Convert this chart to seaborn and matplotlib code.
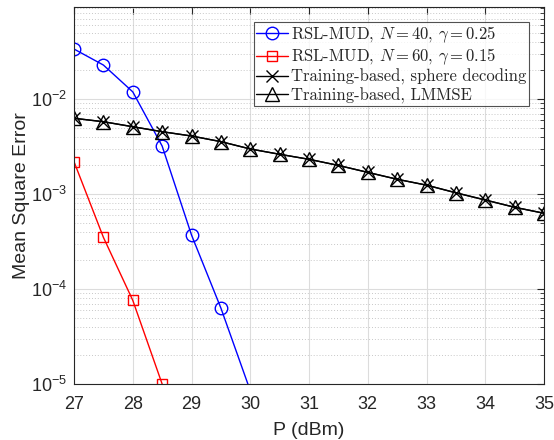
import numpy as np
import matplotlib
matplotlib.use("Agg")
import matplotlib.pyplot as plt
import seaborn as sns
from matplotlib.ticker import FuncFormatter, LogLocator, NullFormatter

# ---- data ----
p_n40 = [27, 27.5, 28, 28.5, 29, 29.5, 30]
mse_n40 = [3.36e-2, 2.28e-2, 1.19e-2, 3.2e-3, 3.7e-4, 6.3e-5, 8.5e-6]

p_n60 = [27, 27.5, 28, 28.5]
mse_n60 = [2.19e-3, 3.5e-4, 7.6e-5, 1.0e-5]

p_train = [27, 27.5, 28, 28.5, 29, 29.5, 30, 30.5, 31, 31.5, 32, 32.5, 33, 33.5, 34, 34.5, 35]
mse_sphere = [6.27e-3, 5.77e-3, 5.11e-3, 4.53e-3, 4.08e-3, 3.56e-3, 2.98e-3, 2.62e-3, 2.32e-3,
              2.00e-3, 1.69e-3, 1.43e-3, 1.24e-3, 1.03e-3, 8.65e-4, 7.25e-4, 6.27e-4]
mse_lmmse = [6.27e-3, 5.77e-3, 5.11e-3, 4.53e-3, 4.08e-3, 3.56e-3, 2.98e-3, 2.62e-3, 2.32e-3,
             2.00e-3, 1.69e-3, 1.43e-3, 1.24e-3, 1.03e-3, 8.65e-4, 7.25e-4, 6.27e-4]

labels = [r"RSL-MUD, $N = 40$, $\gamma = 0.25$",
          r"RSL-MUD, $N = 60$, $\gamma = 0.15$",
          "Training-based, sphere decoding",
          "Training-based, LMMSE"]
x_ticks = [27, 28, 29, 30, 31, 32, 33, 34, 35]

sns.set_style("white")
plt.rcParams["font.family"] = ["Liberation Sans", "DejaVu Sans"]
plt.rcParams["mathtext.fontset"] = "cm"

fig = plt.figure(figsize=(5.54, 4.40), dpi=100)
ax = fig.add_axes([0.1336, 0.1273, 0.982 - 0.1336, 0.985 - 0.1273])

lw = 1.0
sns.lineplot(x=p_n40, y=mse_n40, ax=ax, color="blue", marker="o", markersize=9,
             markerfacecolor="none", markeredgecolor="blue", markeredgewidth=1.0,
             linewidth=lw, label=labels[0])
sns.lineplot(x=p_n60, y=mse_n60, ax=ax, color="red", marker="s", markersize=7.5,
             markerfacecolor="none", markeredgecolor="red", markeredgewidth=1.0,
             linewidth=lw, label=labels[1])
sns.lineplot(x=p_train, y=mse_sphere, ax=ax, color="black", marker="x", markersize=8,
             markeredgecolor="black", markeredgewidth=1.0,
             linewidth=lw, label=labels[2])
sns.lineplot(x=p_train, y=mse_lmmse, ax=ax, color="black", marker="^", markersize=10,
             markerfacecolor="none", markeredgecolor="black", markeredgewidth=1.0,
             linewidth=lw, label=labels[3])

ax.set_yscale("log")
ax.set_xlim(27, 35)
ax.set_ylim(1e-5, 0.094)
ax.set_xticks(x_ticks)
ax.set_xticklabels([str(v) for v in x_ticks])
ax.yaxis.set_major_locator(LogLocator(base=10, numticks=10))
ax.yaxis.set_major_formatter(FuncFormatter(
    lambda v, pos: r"$\mathregular{10^{%d}}$" % int(round(np.log10(v)))))
ax.yaxis.set_minor_locator(LogLocator(base=10, subs=np.arange(2, 10), numticks=20))
ax.yaxis.set_minor_formatter(NullFormatter())

ax.grid(True, which="major", color="#dcdcdc", linewidth=0.8, linestyle="-")
ax.grid(True, which="minor", axis="y", color="#c8c8c8", linewidth=0.7, linestyle=(0, (1, 2)))
ax.set_axisbelow(True)

ax.tick_params(axis="both", which="both", direction="in", top=True, right=True,
               labelsize=13, colors="#262626", labelcolor="#262626")
ax.tick_params(which="major", length=5, width=0.8)
ax.tick_params(which="minor", length=3, width=0.6)
ax.tick_params(axis="x", which="major", pad=9)
ax.tick_params(axis="y", which="major", pad=5)
for s in ax.spines.values():
    s.set_color("#262626")
    s.set_linewidth(0.8)

ax.set_xlabel("P (dBm)", fontsize=14, color="#262626", labelpad=6)
ax.set_ylabel("Mean Square Error", fontsize=14, color="#262626", labelpad=1)

leg = ax.legend(loc="upper right", prop={"family": "cmr10", "size": 12},
                frameon=True, fancybox=False, edgecolor="#262626",
                borderaxespad=0.9, handlelength=1.9, handletextpad=0.2,
                labelspacing=0.12, borderpad=0.15)
leg.get_frame().set_linewidth(0.8)
for t in leg.get_texts():
    t.set_math_fontfamily("cm")

fig.savefig("out.png", dpi=100)
